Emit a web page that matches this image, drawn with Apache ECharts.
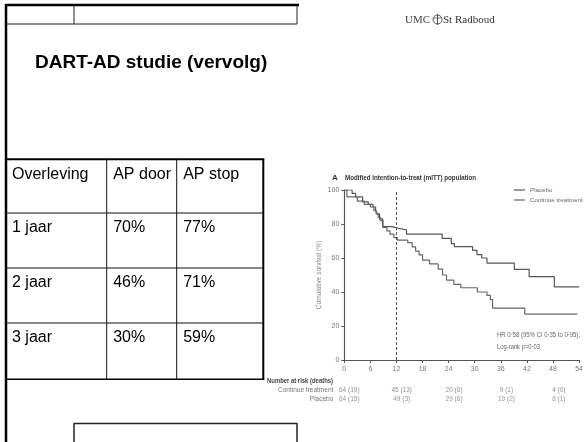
<!DOCTYPE html>
<html>
<head>
<meta charset="utf-8">
<script src="https://cdn.jsdelivr.net/npm/echarts@6/dist/echarts.min.js"></script>
<style>
  html, body { margin: 0; padding: 0; background: #fff; }
  #main { width: 586px; height: 442px; }
</style>
</head>
<body>
<div id="main"></div>
<script>
// Kaplan-Meier steps, [month, cumulative survival %]
const placebo = [
  [0, 100], [1.8, 98], [2.6, 96], [4.2, 93], [5.5, 91.5], [6.6, 90], [7.2, 88], [7.6, 86],
  [8.1, 83], [8.8, 78.5], [11, 77.5], [12.4, 76.5], [14.3, 74], [22.5, 71.5], [24.6, 68.5],
  [25.3, 66.7], [29.5, 64.5], [30.5, 62], [31.6, 60], [32.8, 57], [39.1, 53.3], [42.5, 49],
  [48.3, 43], [54, 43]
];
const continueTreatment = [
  [0, 100], [0.6, 96], [3, 93.5], [4.6, 91.5], [6, 90], [6.8, 88], [7.3, 86], [7.8, 84],
  [8.3, 82], [8.9, 78], [9.8, 76], [10.5, 74], [11.4, 72], [12.2, 70.5], [14.6, 69],
  [15.6, 66.5], [16.4, 64], [17.2, 61.8], [18, 58.8], [19.6, 56.5], [21.6, 53.5], [22.6, 50],
  [23.5, 47], [25.2, 44.5], [26.8, 42.5], [30.6, 40], [32.8, 38], [33.6, 35.5], [34.1, 30.5],
  [41.5, 27], [53.6, 27]
];
const cutoffMonth = 12;

// number at risk (deaths)
const riskMonths = [0, 12, 24, 36, 48];
const riskRows = ['Continue treatment', 'Placebo'];
const riskContinue = ['64 (19)', '45 (13)', '20 (6)', '9 (1)', '4 (0)'];
const riskPlacebo = ['64 (15)', '49 (3)', '29 (6)', '19 (2)', '8 (1)'];

// table on the slide
const tableHeader = ['Overleving', 'AP door', 'AP stop'];
const tableYears = ['1 jaar', '2 jaar', '3 jaar'];
const apDoor = ['70%', '46%', '30%'];
const apStop = ['77%', '71%', '59%'];

const sans = "'Liberation Sans', Arial, sans-serif";
const axisColor = '#555';

const measureCtx = document.createElement('canvas').getContext('2d');

function line(x1, y1, x2, y2, w, c) {
  return {
    type: 'line', silent: true,
    shape: { x1: x1, y1: y1, x2: x2, y2: y2 },
    style: { stroke: c || '#000', lineWidth: w }
  };
}
function text(t, x, y, font, fill, align) {
  return {
    type: 'text', silent: true, x: x, y: y,
    style: {
      text: t, font: font, fill: fill || '#000',
      align: align || 'left', verticalAlign: 'middle',
      textAlign: align || 'left', textVerticalAlign: 'middle'
    }
  };
}
// squeeze a text horizontally so it spans the given width
function fitText(t, x, y, font, fill, width) {
  measureCtx.font = font;
  const el = text(t, x, y, font, fill);
  el.scaleX = Math.min(1, width / measureCtx.measureText(t).width);
  return el;
}

// slide frame, title and table
const graphics = [];
graphics.push(line(6, 4, 6, 442, 2.5));
graphics.push(line(6, 5, 299, 5, 2.5));
graphics.push(line(6, 24, 297, 24, 1, '#222'));
graphics.push(line(74, 5, 74, 24, 1, '#222'));
graphics.push(line(297, 5, 297, 24, 1, '#222'));
graphics.push(fitText('UMC', 405, 20, '11px "Liberation Serif", serif', '#444', 25));
graphics.push({
  type: 'circle', silent: true, shape: { cx: 437.5, cy: 19.5, r: 4.5 },
  style: { fill: 'none', stroke: '#555', lineWidth: 1 }
});
graphics.push(line(437.5, 14, 437.5, 25, 1, '#555'));
graphics.push(line(434, 18, 441, 18, 0.8, '#555'));
graphics.push(fitText('St Radboud', 443, 20, '11px "Liberation Serif", serif', '#333', 55));
graphics.push(text('DART-AD studie (vervolg)', 35, 63, 'bold 19px ' + sans, '#000'));

const colX = [6, 106.7, 176.7, 263.3];
const rowY = [159.3, 213, 268, 323, 379.3];
const tableFont = '16px ' + sans;
graphics.push(line(6, rowY[0], colX[3] + 1, rowY[0], 2));
graphics.push(line(6, rowY[4], colX[3] + 1, rowY[4], 1.5));
graphics.push(line(colX[3], rowY[0], colX[3], rowY[4], 2));
for (let r = 1; r < 4; r++) graphics.push(line(6, rowY[r], colX[3], rowY[r], 1, '#111'));
for (let c = 1; c < 3; c++) graphics.push(line(colX[c], rowY[0], colX[c], rowY[4], 1, '#111'));
const tableRows = [tableHeader].concat(tableYears.map((y, i) => [y, apDoor[i], apStop[i]]));
tableRows.forEach((row, r) => {
  row.forEach((cell, c) => {
    graphics.push(text(cell, colX[c] + (c === 0 ? 6 : 6.5), rowY[r] + 15, tableFont, '#000'));
  });
});
graphics.push(line(74, 423.5, 297, 423.5, 1.5, '#222'));
graphics.push(line(74, 423, 74, 442, 1.5, '#222'));
graphics.push(line(297, 423, 297, 442, 1.5, '#222'));

// chart annotations
graphics.push(text('A', 332, 178, 'bold 8px ' + sans, '#333'));
graphics.push(fitText('Modified intention-to-treat (mITT) population', 345, 178, 'bold 7px ' + sans, '#333', 131));
graphics.push(fitText('HR 0·58 (95% CI 0·35 to 0·95);', 497, 335, '7px ' + sans, '#666', 83));
graphics.push(fitText('Log-rank p=0·03', 497, 347, '7px ' + sans, '#666', 43));
graphics.push(fitText('Number at risk (deaths)', 267, 381, 'bold 7px ' + sans, '#444', 66));

const riskData = [];
riskMonths.forEach((m, i) => {
  riskData.push([m, 0, riskContinue[i]]);
  riskData.push([m, 1, riskPlacebo[i]]);
});

const chart = echarts.init(document.getElementById('main'));
chart.setOption({
  animation: false,
  backgroundColor: '#fff',
  textStyle: { fontFamily: sans },
  legend: {
    orient: 'vertical', left: 514, top: 187, itemGap: 4, padding: 0,
    itemWidth: 11, itemHeight: 7,
    textStyle: { fontSize: 6.2, color: '#666', fontFamily: sans },
    data: [
      { name: 'Placebo', icon: 'path://M0,4L12,4L12,5.3L0,5.3Z' },
      { name: 'Continue treatment', icon: 'path://M0,4L12,4L12,5.3L0,5.3Z' }
    ]
  },
  grid: [
    { left: 344.3, top: 190, width: 235.7, height: 170 },
    { left: 344.3, top: 386, width: 235.7, height: 18 }
  ],
  xAxis: [
    {
      gridIndex: 0, type: 'value', min: 0, max: 54, interval: 6,
      axisLine: { lineStyle: { color: axisColor, width: 1.2 } },
      axisTick: { length: 3, lineStyle: { color: axisColor } },
      axisLabel: { fontSize: 7, color: '#777', margin: 6, fontFamily: sans },
      splitLine: { show: false }
    },
    { gridIndex: 1, type: 'value', min: 0, max: 54, show: false }
  ],
  yAxis: [
    {
      gridIndex: 0, type: 'value', min: 0, max: 100, interval: 20,
      name: 'Cumulative survival (%)', nameLocation: 'middle', nameGap: 22,
      nameTextStyle: { fontSize: 6.5, color: '#888', fontFamily: sans },
      axisLine: { show: true, lineStyle: { color: axisColor, width: 1.2 } },
      axisTick: { show: true, length: 3, lineStyle: { color: axisColor } },
      axisLabel: { fontSize: 7, color: '#777', margin: 5, fontFamily: sans },
      splitLine: { show: false }
    },
    {
      gridIndex: 1, type: 'category', inverse: true, data: riskRows,
      axisLine: { show: false }, axisTick: { show: false },
      axisLabel: { interval: 0, fontSize: 6.5, color: '#777', margin: 11, fontFamily: sans }
    }
  ],
  series: [
    {
      name: 'Placebo', type: 'line', step: 'end', data: placebo,
      xAxisIndex: 0, yAxisIndex: 0, showSymbol: false,
      color: '#555', lineStyle: { width: 1.2, color: '#555' },
      markLine: {
        silent: true, symbol: 'none', label: { show: false },
        lineStyle: { type: [3, 2], color: '#555', width: 1 },
        data: [{ xAxis: cutoffMonth }]
      }
    },
    {
      name: 'Continue treatment', type: 'line', step: 'end', data: continueTreatment,
      xAxisIndex: 0, yAxisIndex: 0, showSymbol: false,
      color: '#666', lineStyle: { width: 1.2, color: '#666' }
    },
    {
      type: 'scatter', xAxisIndex: 1, yAxisIndex: 1, symbolSize: 0, data: riskData,
      label: {
        show: true, position: 'inside', offset: [5, 0], fontSize: 6.5, color: '#777',
        fontFamily: sans, formatter: p => p.value[2]
      }
    }
  ],
  graphic: graphics
});
</script>
</body>
</html>
